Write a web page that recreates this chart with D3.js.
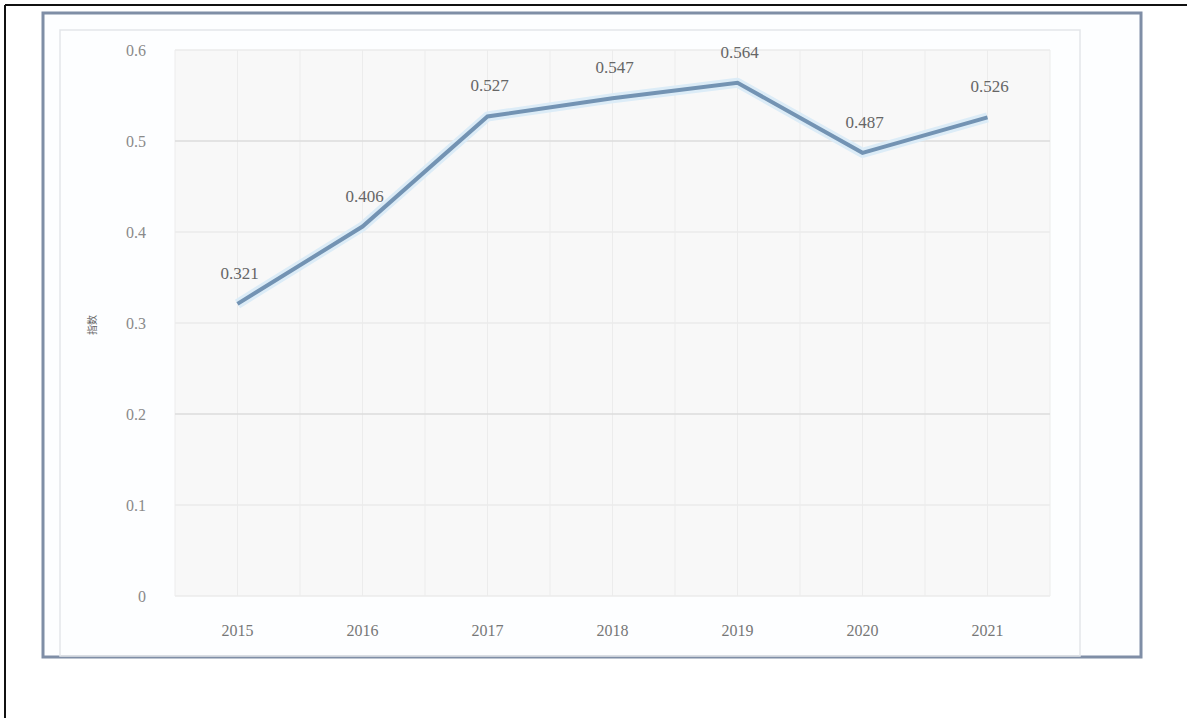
<!DOCTYPE html>
<html><head><meta charset="utf-8">
<script src="https://cdn.jsdelivr.net/npm/d3@7"></script>
<style>body{margin:0;background:#fff}svg{display:block}</style>
</head><body>
<script>
const years = ["2015","2016","2017","2018","2019","2020","2021"];
const values = [0.321,0.406,0.527,0.547,0.564,0.487,0.526];
const yTicks = [0,0.1,0.2,0.3,0.4,0.5,0.6];
const yTickLabels = ["0","0.1","0.2","0.3","0.4","0.5","0.6"];
const yLabel = "指数";

const W=1187,H=718;
const svg=d3.select("body").append("svg").attr("width",W).attr("height",H);
svg.append("line").attr("x1",5).attr("x2",W).attr("y1",5).attr("y2",5).attr("stroke","#111").attr("stroke-width",2);
svg.append("line").attr("x1",5).attr("x2",5).attr("y1",5).attr("y2",H).attr("stroke","#111").attr("stroke-width",2);
svg.append("rect").attr("x",43).attr("y",13).attr("width",1098).attr("height",644)
  .attr("fill","#fdfeff").attr("stroke","#7f8ea6").attr("stroke-width",3);
svg.append("rect").attr("x",60).attr("y",30).attr("width",1020).attr("height",626)
  .attr("fill","none").attr("stroke","#e3e6ea").attr("stroke-width",1.5);

const m={l:175,r:1050,t:50,b:596};
const x=d3.scaleBand().domain(years).range([m.l,m.r]);
const y=d3.scaleLinear().domain([0,0.6]).range([m.b,m.t]);
const g=svg.append("g");
g.append("rect").attr("x",m.l).attr("y",m.t).attr("width",m.r-m.l).attr("height",m.b-m.t).attr("fill","#f8f8f8");
const vx=[];
years.forEach(d=>{vx.push(x(d));vx.push(x(d)+x.bandwidth()/2);});
vx.push(m.r);
g.selectAll(".vg").data(vx).join("line").attr("x1",d=>d).attr("x2",d=>d).attr("y1",m.t).attr("y2",m.b)
  .attr("stroke","#ececec").attr("stroke-width",1);
g.selectAll(".hg").data(yTicks).join("line").attr("x1",m.l).attr("x2",m.r).attr("y1",d=>y(d)).attr("y2",d=>y(d))
  .attr("stroke",d=>(d===0.5||d===0.2)?"#dcdcdc":"#ebebeb").attr("stroke-width",1.5);

const ya=d3.axisLeft(y).tickValues(yTicks).tickFormat((d,i)=>yTickLabels[i]).tickSize(0).tickPadding(29);
const yg=svg.append("g").attr("transform",`translate(${m.l},0)`).call(ya);
yg.select(".domain").remove();
yg.selectAll("text").attr("font-family","Liberation Serif").attr("font-size",16).attr("fill","#8a8a8a");
const xa=d3.axisBottom(x).tickSize(0).tickPadding(29);
const xg=svg.append("g").attr("transform",`translate(0,${m.b})`).call(xa);
xg.select(".domain").remove();
xg.selectAll("text").attr("font-family","Liberation Serif").attr("font-size",16).attr("fill","#777");

svg.append("text").attr("transform",`translate(96,325) rotate(-90)`).attr("text-anchor","middle")
  .attr("font-family","Noto Sans CJK SC").attr("font-size",10).attr("fill","#666").text(yLabel);

const line=d3.line().x((d,i)=>x(years[i])+x.bandwidth()/2).y(d=>y(d));
svg.append("path").datum(values).attr("d",line).attr("fill","none").attr("stroke","#dcecf7").attr("stroke-width",10).attr("stroke-linejoin","round");
svg.append("path").datum(values).attr("d",line).attr("fill","none").attr("stroke","#7393b3").attr("stroke-width",4).attr("stroke-linejoin","miter");

svg.selectAll(".lbl").data(values).join("text")
  .attr("x",(d,i)=>x(years[i])+x.bandwidth()/2+2).attr("y",d=>y(d)-25)
  .attr("text-anchor","middle").attr("font-family","Liberation Serif").attr("font-size",17).attr("fill","#666")
  .text(d=>d.toFixed(3));
</script>
</body></html>
